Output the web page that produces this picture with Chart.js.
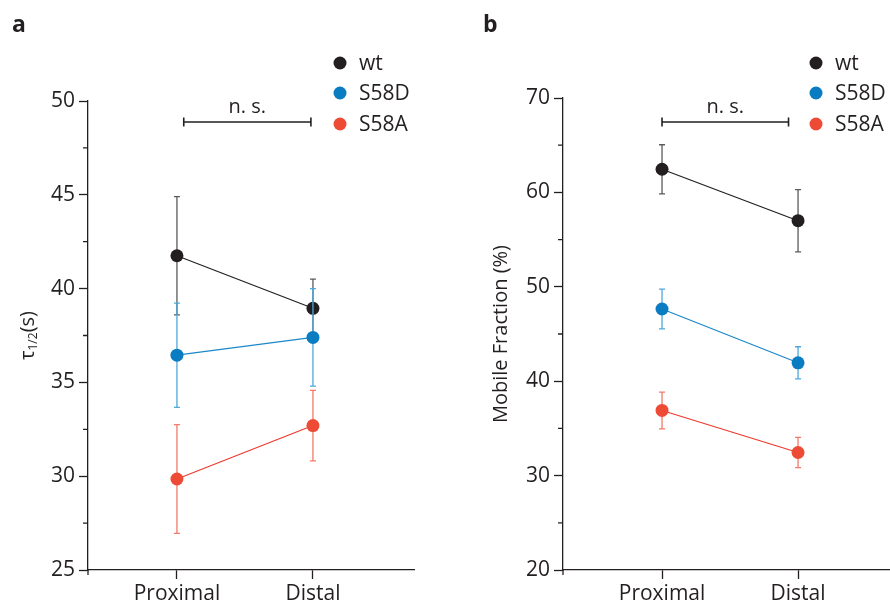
<!DOCTYPE html>
<html lang="en">
<head>
<meta charset="UTF-8">
<title>FRAP recovery</title>
<style>
  body { margin: 0; background: #fff; }
  .panel { position: absolute; top: 0; width: 445px; height: 606px; }
</style>
</head>
<body>
<div class="panel" style="left:0"><canvas id="halfTime" width="445" height="606"></canvas></div>
<div class="panel" style="left:445px"><canvas id="mobileFraction" width="445" height="606"></canvas></div>
<script src="https://cdn.jsdelivr.net/npm/chart.js"></script>
<script>
const regions = ['Proximal', 'Distal'];
const seriesNames = ['wt', 'S58D', 'S58A'];

// half time of recovery, seconds (mean, sem)
const tauWt = [41.75, 38.95];
const tauWtErr = [3.15, 1.55];
const tauS58D = [36.45, 37.4];
const tauS58DErr = [2.78, 2.6];
const tauS58A = [29.85, 32.7];
const tauS58AErr = [2.9, 1.88];
const tauTicks = [25, 30, 35, 40, 45, 50];

// mobile fraction, percent (mean, sem)
const mobWt = [62.45, 57.0];
const mobWtErr = [2.6, 3.3];
const mobS58D = [47.65, 41.95];
const mobS58DErr = [2.1, 1.7];
const mobS58A = [36.9, 32.45];
const mobS58AErr = [1.95, 1.6];
const mobTicks = [20, 30, 40, 50, 60, 70];

const ink = '#231f20';
const pointColors = ['#231f20', '#0a7cc1', '#ee4b37'];
const lineColors = ['#231f20', '#1b87c8', '#ee3a2c'];
const errColors = ['#5b5b5b', '#4ea8dc', '#f27a6c'];
const legendY = [63, 93, 124];

Chart.defaults.font.family = "'Open Sans', sans-serif";
Chart.defaults.color = ink;

function makePanel(canvasId, p) {
  const decor = {
    id: 'decor',
    beforeDatasetDraw(chart, args) {
      const i = args.index;
      const xs = chart.scales.x, ys = chart.scales.y, c = chart.ctx;
      c.save();
      c.strokeStyle = errColors[i];
      c.lineWidth = 1.3;
      p.means[i].forEach((m, j) => {
        const x = xs.getPixelForValue(j + 1);
        const top = ys.getPixelForValue(m + p.errs[i][j]);
        const bot = ys.getPixelForValue(m - p.errs[i][j]);
        c.beginPath();
        c.moveTo(x, top); c.lineTo(x, bot);
        c.moveTo(x - 3, top); c.lineTo(x + 3, top);
        c.moveTo(x - 3, bot); c.lineTo(x + 3, bot);
        c.stroke();
      });
      c.restore();
    },
    afterDraw(chart) {
      const a = chart.chartArea, xs = chart.scales.x, ys = chart.scales.y, c = chart.ctx;
      c.save();
      c.strokeStyle = ink;
      c.fillStyle = ink;
      c.lineWidth = 1.3;
      // short minor ticks between labelled values
      c.beginPath();
      for (let v = p.yTicks[0] + p.yStep; v < p.yTicks[p.yTicks.length - 1]; v += 2 * p.yStep) {
        const y = ys.getPixelForValue(v);
        c.moveTo(a.left - 5, y); c.lineTo(a.left, y);
      }
      c.moveTo(a.left, a.bottom); c.lineTo(a.left, a.bottom + 5);
      c.stroke();

      // legend
      c.font = "21px 'Open Sans', sans-serif";
      c.textBaseline = 'middle';
      c.textAlign = 'left';
      seriesNames.forEach((name, i) => {
        c.fillStyle = pointColors[i];
        c.beginPath();
        c.arc(a.right - 74, legendY[i], 6.5, 0, Math.PI * 2);
        c.fill();
        c.fillStyle = ink;
        c.fillText(name, a.right - 55, legendY[i] + 1);
      });

      // n.s. bracket
      const x0 = xs.getPixelForValue(p.bracket[0]);
      const x1 = xs.getPixelForValue(p.bracket[1]);
      const by = 122;
      c.lineWidth = 1.6;
      c.beginPath();
      c.moveTo(x0, by); c.lineTo(x1, by);
      c.moveTo(x0, by - 4.5); c.lineTo(x0, by + 4.5);
      c.moveTo(x1, by - 4.5); c.lineTo(x1, by + 4.5);
      c.stroke();
      c.font = "20px 'Open Sans', sans-serif";
      c.textAlign = 'center';
      c.textBaseline = 'alphabetic';
      c.fillText('n. s.', (x0 + x1) / 2, 113);

      // panel letter
      c.font = "bold 23px 'Open Sans', sans-serif";
      c.textAlign = 'left';
      c.fillText(p.letter, p.letterX, 32);

      // tau 1/2 axis title with subscript
      if (p.tauTitle) {
        c.translate(28, (a.top + a.bottom) / 2);
        c.rotate(-Math.PI / 2);
        c.textBaseline = 'middle';
        const big = "20px 'Open Sans', sans-serif", small = "12px 'Open Sans', sans-serif";
        c.font = big; const w1 = c.measureText('τ').width, w3 = c.measureText('(s)').width;
        c.font = small; const w2 = c.measureText('1/2').width;
        let x = -(w1 + w2 + w3) / 2;
        c.font = big; c.fillText('τ', x, 0); x += w1;
        c.font = small; c.fillText('1/2', x, 6); x += w2;
        c.font = big; c.fillText('(s)', x, 0);
      }
      c.restore();
    }
  };

  return new Chart(document.getElementById(canvasId), {
    type: 'line',
    data: {
      datasets: seriesNames.map((name, i) => ({
        label: name,
        data: p.means[i].map((v, j) => ({ x: j + 1, y: v })),
        borderColor: lineColors[i],
        backgroundColor: pointColors[i],
        pointBackgroundColor: pointColors[i],
        pointBorderWidth: 0,
        pointRadius: 6.5,
        borderWidth: 1.2,
        order: 3 - i
      }))
    },
    options: {
      responsive: false,
      animation: false,
      devicePixelRatio: 1,
      layout: { autoPadding: false, padding: { top: p.top, right: p.right, left: 0, bottom: 0 } },
      plugins: { legend: { display: false }, tooltip: { enabled: false } },
      scales: {
        x: {
          type: 'linear',
          min: p.xMin,
          max: p.xMax,
          afterBuildTicks(s) { s.ticks = regions.map((_, j) => ({ value: j + 1 })); },
          afterFit(s) { s.height = 36; },
          ticks: { callback: v => regions[v - 1], font: { size: 21 }, padding: 2, autoSkip: false, maxRotation: 0, color: ink },
          grid: { drawOnChartArea: false, tickLength: 9, tickColor: ink, tickWidth: 1.3 },
          border: { color: ink, width: 1.3 }
        },
        y: {
          min: p.yTicks[0],
          max: p.yTicks[p.yTicks.length - 1],
          afterFit(s) { s.width = p.yWidth; },
          ticks: {
            stepSize: p.yStep,
            callback: v => p.yTicks.includes(v) ? v : '',
            font: { size: 21 }, padding: 4, color: ink
          },
          grid: {
            drawOnChartArea: false, tickLength: 9, tickWidth: 1.3,
            tickColor: ctx => p.yTicks.includes(ctx.tick.value) ? ink : 'rgba(0,0,0,0)'
          },
          border: { color: ink, width: 1.3 },
          title: p.yTitle
            ? { display: true, text: p.yTitle, font: { size: 20 }, color: ink, padding: { top: 44, bottom: 0 } }
            : { display: false }
        }
      }
    },
    plugins: [decor]
  });
}

makePanel('halfTime', {
  means: [tauWt, tauS58D, tauS58A],
  errs: [tauWtErr, tauS58DErr, tauS58AErr],
  yTicks: tauTicks, yStep: 2.5,
  xMin: 0.346, xMax: 2.743,
  top: 101, right: 31, yWidth: 88,
  bracket: [1.05, 1.985],
  letter: 'a', letterX: 12,
  tauTitle: true
});

makePanel('mobileFraction', {
  means: [mobWt, mobS58D, mobS58A],
  errs: [mobWtErr, mobS58DErr, mobS58AErr],
  yTicks: mobTicks, yStep: 5,
  xMin: 0.272, xMax: 2.676,
  top: 98, right: 0, yWidth: 118,
  bracket: [1.0, 1.93],
  letter: 'b', letterX: 38,
  yTitle: 'Mobile Fraction (%)'
});
</script>
</body>
</html>
